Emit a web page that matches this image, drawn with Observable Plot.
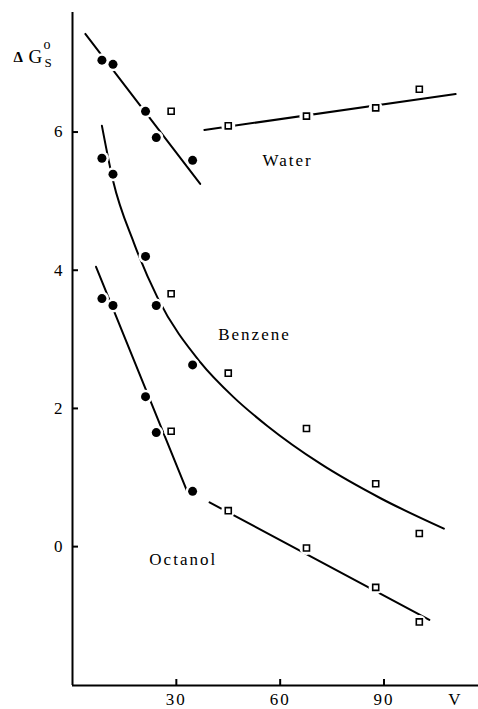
<!DOCTYPE html>
<html><head><meta charset="utf-8">
<script src="https://cdn.jsdelivr.net/npm/d3@7"></script>
<script src="https://cdn.jsdelivr.net/npm/@observablehq/plot@0.6"></script>
<style>body{margin:0;background:#fff}</style>
</head><body><div id="chart"></div>
<script>
// Molar volume V of the solutes (filled circles and open squares share V across solvents)
const circleV = [8.5, 11.7, 21.1, 24.2, 34.7];
const squareV = [28.5, 45.0, 67.6, 87.6, 100.2];
// ΔG°s values
const waterCircleG   = [7.04, 6.98, 6.30, 5.92, 5.59];
const benzeneCircleG = [5.62, 5.39, 4.20, 3.49, 2.63];
const octanolCircleG = [3.59, 3.49, 2.17, 1.65, 0.80];
const waterSquareG   = [6.30, 6.09, 6.23, 6.35, 6.62];
const benzeneSquareG = [3.66, 2.51, 1.71, 0.91, 0.19];
const octanolSquareG = [1.67, 0.52, -0.02, -0.59, -1.09];
// drawn fit lines (end points)
const waterFitAV = [3.7, 36.9],    waterFitAG = [7.42, 5.25];
const waterFitBV = [38.1, 110.7],  waterFitBG = [6.03, 6.55];
const octanolFitAV = [6.8, 33.6],  octanolFitAG = [4.05, 0.74];
const octanolFitBV = [39.6, 103.1], octanolFitBG = [0.64, -1.06];
// benzene curve, points
const benzeneCurveV = [8.5, 11.7, 17.7, 24.6, 36.9, 46.6, 56.2, 71.6, 89.0, 107.3];
const benzeneCurveG = [6.09, 5.30, 4.40, 3.60, 2.67, 2.16, 1.75, 1.20, 0.70, 0.26];
// ticks and labels
const xTicks = [30, 60, 90];
const yTicks = [0, 2, 4, 6];
const solventNames = ["Water", "Benzene", "Octanol"];
const labelV = [54.9, 42.1, 22.2];
const labelG = [5.59, 3.07, -0.18];
const xDomain = [0, 117.3];
const yDomain = [-2.01, 7.73];

const zip = (vs, gs, extra) => vs.map((v, i) => ({v, g: gs[i], ...extra}));
const circles = [
  ...zip(circleV, waterCircleG, {s: "Water"}),
  ...zip(circleV, benzeneCircleG, {s: "Benzene"}),
  ...zip(circleV, octanolCircleG, {s: "Octanol"})
];
const squares = [
  ...zip(squareV, waterSquareG, {s: "Water"}),
  ...zip(squareV, benzeneSquareG, {s: "Benzene"}),
  ...zip(squareV, octanolSquareG, {s: "Octanol"})
];
const fits = [
  ...zip(waterFitAV, waterFitAG, {f: "wA"}),
  ...zip(waterFitBV, waterFitBG, {f: "wB"}),
  ...zip(octanolFitAV, octanolFitAG, {f: "oA"}),
  ...zip(octanolFitBV, octanolFitBG, {f: "oB"})
];
const benzeneCurve = zip(benzeneCurveV, benzeneCurveG, {});
const labels = solventNames.map((t, i) => ({t, v: labelV[i], g: labelG[i]}));

const serif = "'Liberation Serif', 'DejaVu Serif', serif";
const chart = Plot.plot({
  width: 478, height: 709,
  marginLeft: 72, marginRight: 0, marginTop: 12, marginBottom: 24,
  x: {domain: xDomain},
  y: {domain: yDomain},
  style: {fontFamily: serif, fontSize: "17px", letterSpacing: "2px", color: "black", background: "white"},
  marks: [
    Plot.ruleX([xDomain[0]], {strokeWidth: 2}),
    Plot.ruleY([yDomain[0]], {strokeWidth: 2}),
    Plot.tickY(yTicks, {y: d => d, insetRight: 400, strokeWidth: 2}),
    Plot.tickX(xTicks, {x: d => d, insetTop: 667, strokeWidth: 2}),
    Plot.axisY({ticks: yTicks, tickSize: 0, tickPadding: 8, fontSize: 17, label: null}),
    Plot.axisX({ticks: xTicks, tickSize: 0, tickPadding: 7, fontSize: 17, label: null}),
    Plot.line(fits, {x: "v", y: "g", z: "f", stroke: "black", strokeWidth: 2}),
    Plot.line(benzeneCurve, {x: "v", y: "g", stroke: "black", strokeWidth: 2, curve: "monotone-x"}),
    Plot.dot([...circles, ...squares], {x: "v", y: "g", r: 7, fill: "white", stroke: null}),
    Plot.dot(circles, {x: "v", y: "g", r: 4.5, fill: "black", stroke: null}),
    Plot.dot(squares, {x: "v", y: "g", r: 3.4, symbol: "square", fill: "white", stroke: "black", strokeWidth: 1.6}),
    Plot.text(labels, {x: "v", y: "g", text: "t", textAnchor: "start", lineAnchor: "middle", fontSize: 17}),
    Plot.text(["Δ"], {text: d => d, frameAnchor: "top-left", dx: -59, dy: 45, textAnchor: "start", lineAnchor: "middle", fontSize: 15, fontWeight: "bold"}),
    Plot.text(["G"], {text: d => d, frameAnchor: "top-left", dx: -44, dy: 44, textAnchor: "start", lineAnchor: "middle", fontSize: 19}),
    Plot.text(["S"], {text: d => d, frameAnchor: "top-left", dx: -28, dy: 50, textAnchor: "start", lineAnchor: "middle", fontSize: 13}),
    Plot.text(["o"], {text: d => d, frameAnchor: "top-left", dx: -29, dy: 32, textAnchor: "start", lineAnchor: "middle", fontSize: 14}),
    Plot.text(["V"], {text: d => d, frameAnchor: "bottom-right", dx: -23, dy: 14, textAnchor: "middle", lineAnchor: "middle", fontSize: 17})
  ]
});
document.getElementById("chart").appendChild(chart);
</script>
</body></html>
